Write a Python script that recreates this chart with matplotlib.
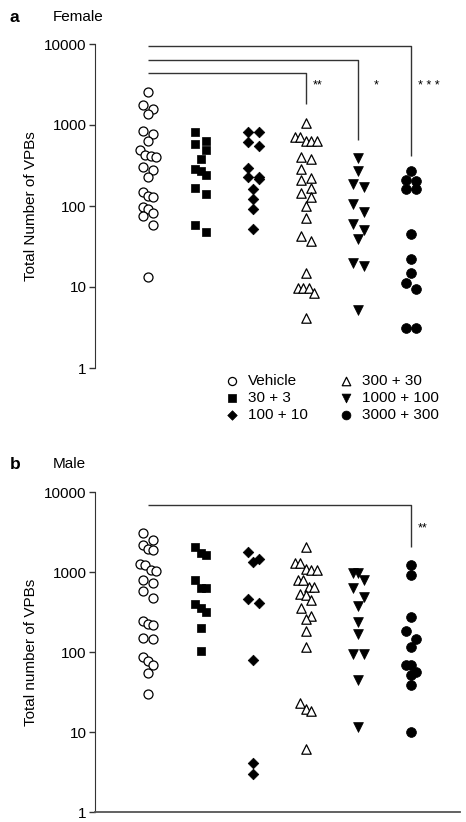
import numpy as np
import matplotlib
matplotlib.use("Agg")
import matplotlib.pyplot as plt
from matplotlib.ticker import FixedLocator, FuncFormatter, NullLocator

plt.rcParams['font.family'] = ['Liberation Sans', 'DejaVu Sans']

# ---------------- data ----------------
groups = ["Vehicle", "30 + 3", "100 + 10", "300 + 30", "1000 + 100", "3000 + 300"]

female_vehicle = [2560, 1770, 1560, 1350, 850, 775, 635, 490, 425, 417, 400, 300, 278, 230,
                  148, 133, 130, 98, 92, 82, 76, 59, 13.4]
female_30 = [812, 640, 590, 490, 377, 290, 274, 240, 167, 139, 58, 48]
female_100 = [830, 830, 620, 550, 293, 230, 225, 217, 161, 123, 93, 52]
female_300 = [1050, 720, 705, 640, 640, 640, 408, 380, 283, 220, 210, 165, 145, 130, 100, 72,
              43, 37, 15, 9.6, 9.6, 9.6, 8.5, 4.2]
female_1000 = [388, 274, 187, 170, 106, 85, 60, 51, 39, 19.6, 18.2, 5.2]
female_3000 = [274, 210, 205, 161, 161, 45, 22, 14.7, 11.3, 9.4, 3.1, 3.1]

male_vehicle = [3040, 2510, 2150, 1960, 1910, 1260, 1230, 1060, 1020, 790, 735, 580, 475, 246,
                225, 218, 148, 144, 86, 78, 68, 54, 30]
male_30 = [2080, 1710, 1620, 790, 630, 630, 400, 355, 316, 198, 103]
male_100 = [1780, 1440, 1330, 457, 406, 79, 4.06, 3.0]
male_300 = [2040, 1290, 1290, 1080, 1060, 1060, 790, 790, 655, 655, 530, 510, 447, 352, 280,
            256, 184, 116, 22.8, 19.6, 18.1, 6.2]
male_1000 = [970, 970, 790, 625, 490, 376, 240, 170, 94, 94, 45, 11.7]
male_3000 = [1210, 925, 271, 181, 144, 116, 68, 68, 56, 51, 39, 10]

female = [female_vehicle, female_30, female_100, female_300, female_1000, female_3000]
male = [male_vehicle, male_30, male_100, male_300, male_1000, male_3000]

yticks = [1, 10, 100, 1000, 10000]

# significance brackets: (group a, group b, bar height, drop end, stars)
female_sig = [(0, 5, 9440, 415, "* * *"), (0, 4, 6300, 650, "*"), (0, 3, 4380, 1820, "**")]
female_star_y = 3050
male_sig = [(0, 5, 6900, 2050, "**")]
male_star_y = 3550

# ---------------- styles ----------------
styles = [
    dict(marker='o', s=42, facecolors='white', edgecolors='black', linewidths=0.9),
    dict(marker='s', s=33, facecolors='black', edgecolors='black', linewidths=0.5),
    dict(marker='D', s=29, facecolors='black', edgecolors='black', linewidths=0.5),
    dict(marker='^', s=46, facecolors='white', edgecolors='black', linewidths=0.9),
    dict(marker='v', s=50, facecolors='black', edgecolors='black', linewidths=0.5),
    dict(marker='o', s=50, facecolors='black', edgecolors='black', linewidths=0.5),
]
star_dx = {"**": 5, "*": 11, "* * *": 5}
spine_col = '#333333'
FS = 11


def swarm_offsets(values, row_h=0.11, pair_w=0.2, multi_w=0.103):
    v = np.asarray(values, dtype=float)
    lg = np.log10(v)
    order = np.argsort(-lg, kind='stable')
    rows = []
    for idx in order:
        if rows and lg[rows[-1][0]] - lg[idx] < row_h:
            rows[-1].append(idx)
        else:
            rows.append([idx])
    off = np.zeros(len(v))
    for row in rows:
        n = len(row)
        w = pair_w if n == 2 else multi_w
        for i, idx in enumerate(row):
            off[idx] = (i - (n - 1) / 2) * w
    return off


W, H = 466, 822
fig = plt.figure(figsize=(W / 100, H / 100), dpi=100)
ax1 = fig.add_axes([95 / W, 1 - 368 / H, 365 / W, 324 / H])
ax2 = fig.add_axes([95 / W, 1 - 812 / H, 365 / W, 320 / H])

handles = []
for ax, data, sig, star_y, ylabel, bottom in [
        (ax1, female, female_sig, female_star_y, "Total Number of VPBs", False),
        (ax2, male, male_sig, male_star_y, "Total number of VPBs", True)]:
    for gi, vals in enumerate(data):
        x = gi + swarm_offsets(vals)
        h = ax.scatter(x, vals, label=groups[gi], zorder=3, clip_on=False, **styles[gi])
        if ax is ax1:
            handles.append(h)
    for a, b, yb, yd, st in sig:
        ax.plot([a, b, b], [yb, yb, yd], color=spine_col, lw=1.0, solid_capstyle='butt',
                zorder=2, clip_on=False)
        ax.annotate(st, xy=(b, star_y), xytext=(star_dx[st], 0), textcoords='offset points',
                    ha='left', va='center', fontsize=9)
    ax.set_yscale('log')
    ax.set_ylim(1, 10000)
    ax.set_xlim(-1.008, 5.93)
    ax.yaxis.set_major_locator(FixedLocator(yticks))
    ax.yaxis.set_minor_locator(NullLocator())
    ax.yaxis.set_major_formatter(FuncFormatter(lambda v, p: "%g" % v))
    ax.set_xticks([])
    for s in ['top', 'right']:
        ax.spines[s].set_visible(False)
    ax.spines['bottom'].set_visible(bottom)
    ax.spines['left'].set_color(spine_col)
    ax.spines['bottom'].set_color('#555555')
    ax.spines['bottom'].set_linewidth(1.3)
    ax.tick_params(axis='y', length=4, width=1.0, pad=2, colors=spine_col, labelcolor='black',
                   labelsize=FS)
    ax.set_ylabel(ylabel, fontsize=FS)
    ax.yaxis.set_label_coords(-0.155, 0.5)

fig.legend(handles=handles, labels=groups, ncol=2, loc='upper left',
           bbox_to_anchor=(226 / W, 1 - 374 / H), frameon=False, fontsize=FS,
           handlelength=0.8, handletextpad=0.65, labelspacing=0.2, columnspacing=2.1,
           borderpad=0, borderaxespad=0, markerscale=0.9, scatterpoints=1)

fig.text(10 / W, 1 - 17 / H, "a", fontsize=12.5, fontweight='bold', va='center', ha='left')
fig.text(53 / W, 1 - 17 / H, "Female", fontsize=11, va='center', ha='left')
fig.text(10 / W, 1 - 464 / H, "b", fontsize=12.5, fontweight='bold', va='center', ha='left')
fig.text(53 / W, 1 - 464 / H, "Male", fontsize=11, va='center', ha='left')

fig.savefig("out.png", dpi=100)
